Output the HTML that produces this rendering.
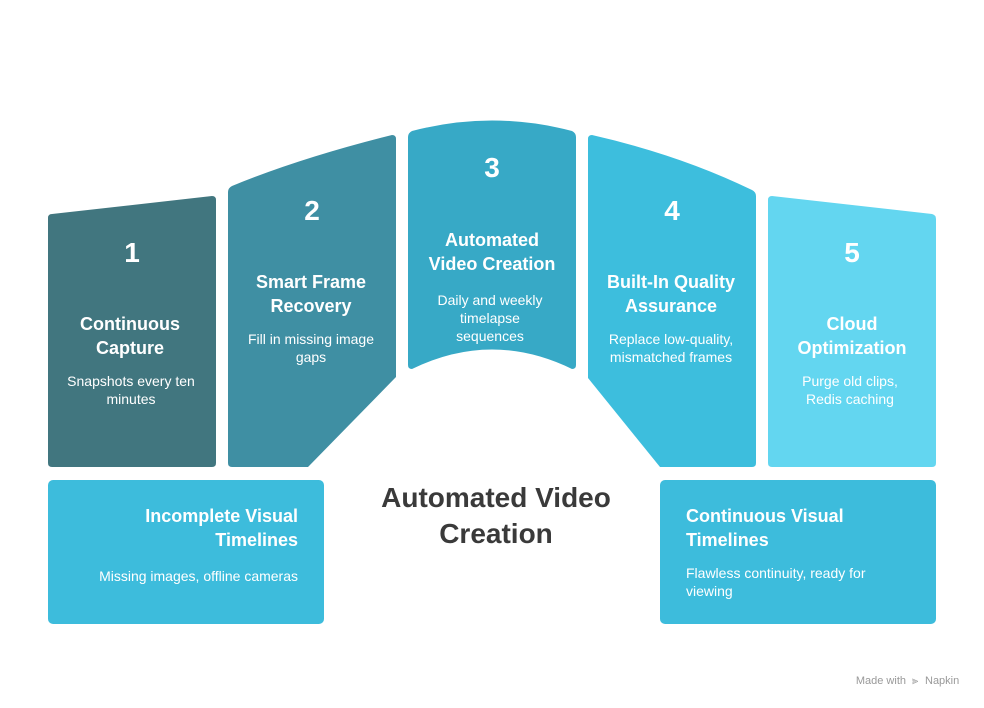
<!DOCTYPE html>
<html><head><meta charset="utf-8"><style>
html,body{margin:0;padding:0;background:#fff;}
svg{display:block;font-family:"Liberation Sans",sans-serif;}
.n{font-size:28px;font-weight:bold;fill:#fff;text-anchor:middle;}
.t{font-size:18px;font-weight:bold;fill:#fff;text-anchor:middle;}
.d{font-size:14px;fill:#fff;text-anchor:middle;}
</style></head><body>
<svg width="984" height="708" viewBox="0 0 984 708">
<path d="M52,214 L212,196 Q216,196 216,200 L216,463 Q216,467 212,467 L52,467 Q48,467 48,463 L48,218 Q48,214 52,214Z" fill="#41767f"/>
<path d="M232,186 Q300,158 392,135 Q396,135 396,139 L396,377 L308,467 L232,467 Q228,467 228,463 L228,192 Q228,188 232,186Z" fill="#3f8fa3"/>
<path d="M412,131 Q492,110 572,131 Q576,133 576,137 L576,365 Q576,369 572,369 Q492,330 412,369 Q408,369 408,365 L408,137 Q408,133 412,131Z" fill="#37a9c6"/>
<path d="M592,135 Q680,155 752,190 Q756,192 756,196 L756,463 Q756,467 752,467 L660,467 L588,378 L588,139 Q588,135 592,135Z" fill="#3dbedd"/>
<path d="M772,196 L932,214 Q936,215 936,219 L936,463 Q936,467 932,467 L772,467 Q768,467 768,463 L768,200 Q768,196 772,196Z" fill="#63d6f0"/>
<rect x="48" y="480" width="276" height="144" rx="5" fill="#3dbcdc"/>
<rect x="660" y="480" width="276" height="144" rx="5" fill="#3dbcdc"/>
<text class="n" x="132" y="262">1</text>
<text class="t" x="130" y="330">Continuous</text><text class="t" x="130" y="354">Capture</text>
<text class="d" x="131" y="386">Snapshots every ten</text><text class="d" x="131" y="404">minutes</text>
<text class="n" x="312" y="220">2</text>
<text class="t" x="311" y="288">Smart Frame</text><text class="t" x="311" y="312">Recovery</text>
<text class="d" x="311" y="344">Fill in missing image</text><text class="d" x="311" y="362">gaps</text>
<text class="n" x="492" y="177">3</text>
<text class="t" x="492" y="246">Automated</text><text class="t" x="492" y="270">Video Creation</text>
<text class="d" x="490" y="305">Daily and weekly</text><text class="d" x="490" y="323">timelapse</text><text class="d" x="490" y="341">sequences</text>
<text class="n" x="672" y="220">4</text>
<text class="t" x="671" y="288">Built-In Quality</text><text class="t" x="671" y="312">Assurance</text>
<text class="d" x="671" y="344">Replace low-quality,</text><text class="d" x="671" y="362">mismatched frames</text>
<text class="n" x="852" y="262">5</text>
<text class="t" x="852" y="330">Cloud</text><text class="t" x="852" y="354">Optimization</text>
<text class="d" x="850" y="386">Purge old clips,</text><text class="d" x="850" y="404">Redis caching</text>
<text class="t" x="298" y="522" style="text-anchor:end">Incomplete Visual</text><text class="t" x="298" y="546" style="text-anchor:end">Timelines</text>
<text class="d" x="298" y="581" style="text-anchor:end">Missing images, offline cameras</text>
<text class="t" x="686" y="522" style="text-anchor:start">Continuous Visual</text><text class="t" x="686" y="546" style="text-anchor:start">Timelines</text>
<text class="d" x="686" y="578" style="text-anchor:start">Flawless continuity, ready for</text><text class="d" x="686" y="596" style="text-anchor:start">viewing</text>
<text x="496" y="507" font-size="28" font-weight="bold" fill="#3a3a3a" text-anchor="middle">Automated Video</text>
<text x="496" y="543" font-size="28" font-weight="bold" fill="#3a3a3a" text-anchor="middle">Creation</text>
<text x="906" y="684" font-size="11" fill="#999" text-anchor="end">Made with</text>
<text x="912" y="684" font-size="11" fill="#999">⫸</text>
<text x="925" y="684" font-size="11" fill="#999">Napkin</text>
</svg>
</body></html>
